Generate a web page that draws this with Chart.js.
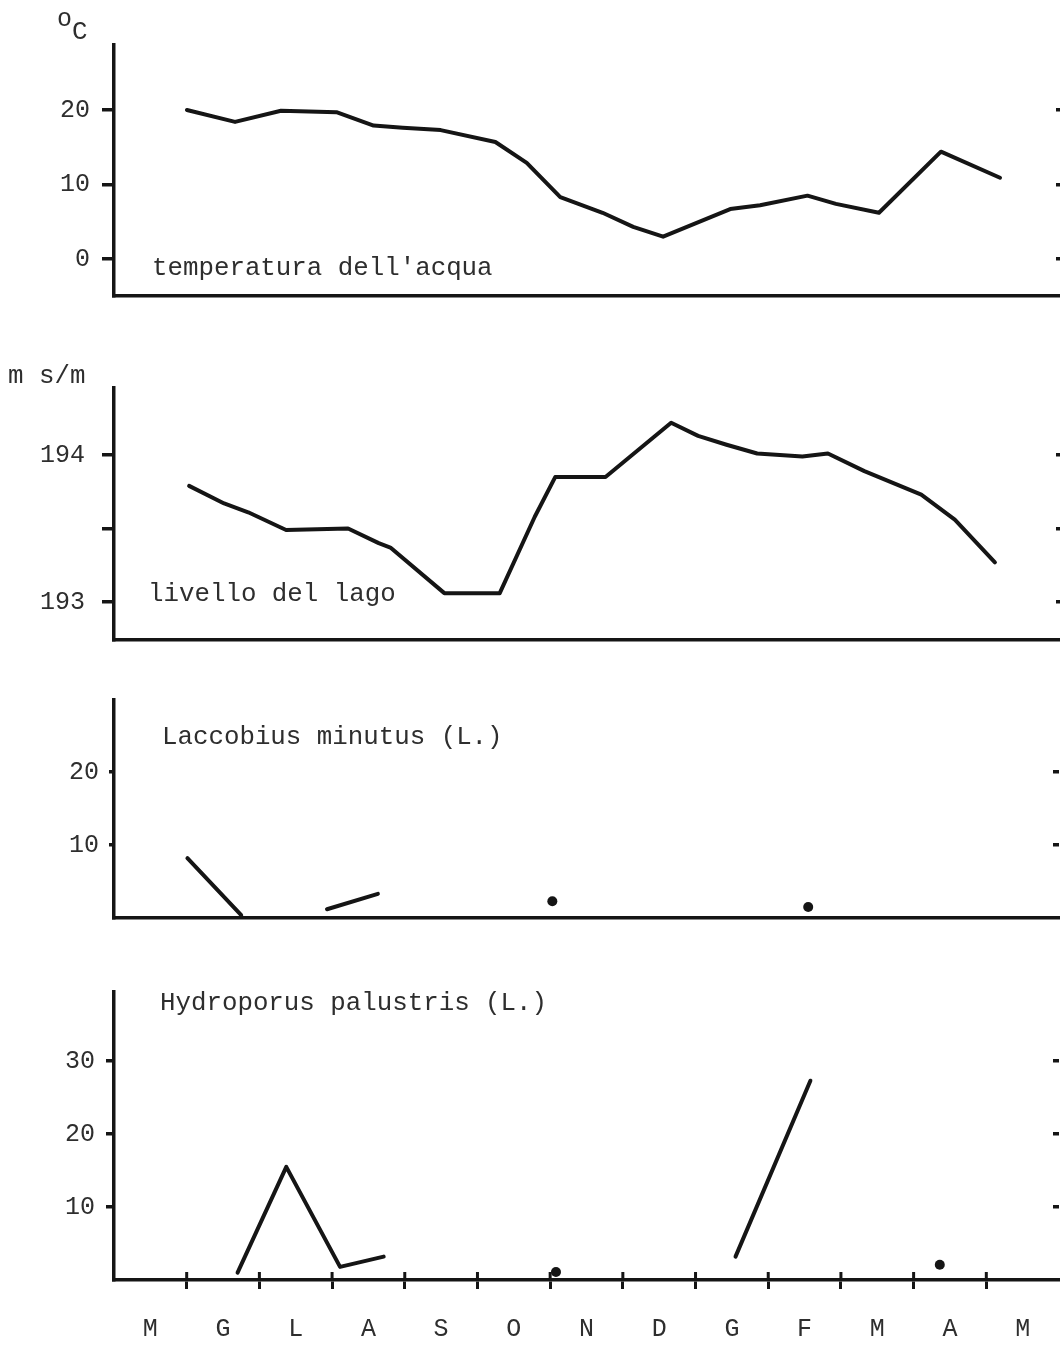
<!DOCTYPE html>
<html><head><meta charset="utf-8">
<script src="https://cdn.jsdelivr.net/npm/chart.js@4.4.1/dist/chart.umd.min.js"></script>
<style>
html,body{margin:0;padding:0;background:#fff;overflow:hidden;width:1060px;height:1347px;position:relative;}
canvas{position:absolute;left:0;}
</style></head><body>
<canvas id="c1" width="1064" height="340" style="top:0px"></canvas>
<canvas id="c2" width="1064" height="360" style="top:320px"></canvas>
<canvas id="c3" width="1064" height="300" style="top:660px"></canvas>
<canvas id="c4" width="1064" height="387" style="top:960px"></canvas>
<script>
// ---- categories (months, May -> May) ----
const months = ['M','G','L','A','S','O','N','D','G','F','M','A','M'];
const monthCentres = [0.5,1.5,2.5,3.5,4.5,5.5,6.5,7.5,8.5,9.5,10.5,11.5,12.5];
const monthBounds = [1,2,3,4,5,6,7,8,9,10,11,12];

// ---- temperatura dell'acqua (°C) ----
const tempX = [1.00,1.66,2.29,3.05,3.56,3.96,4.48,5.23,5.66,6.12,6.70,7.12,7.53,8.45,8.86,9.51,9.90,10.49,11.34,12.15];
const tempY = [20.0,18.4,19.9,19.7,17.9,17.6,17.3,15.7,12.9,8.3,6.2,4.3,3.0,6.7,7.2,8.5,7.4,6.2,14.4,10.9];
const tempTicks = [0,10,20];
const tempTickLabels = ['0','10','20'];

// ---- livello del lago (m s/m) ----
const levelX = [1.03,1.51,1.84,2.36,3.21,3.63,3.79,4.53,5.29,5.77,6.05,6.74,7.64,8.01,8.40,8.82,9.44,9.79,10.29,11.07,11.53,12.08];
const levelY = [193.79,193.67,193.61,193.49,193.50,193.40,193.37,193.06,193.06,193.58,193.85,193.85,194.22,194.13,194.07,194.01,193.99,194.01,193.89,193.73,193.56,193.27];
const levelTicks = [193,193.5,194];
const levelTickLabels = ['193','','194'];

// ---- Laccobius minutus (L.) ----
const lacc1X = [1.01,1.75];  const lacc1Y = [8.2,0.4];
const lacc2X = [2.93,3.63];  const lacc2Y = [1.2,3.3];
const laccDotX = [6.03,9.55]; const laccDotY = [2.3,1.5];
const laccTicks = [10,20];
const laccTickLabels = ['10','20'];

// ---- Hydroporus palustris (L.) ----
const hydro1X = [1.70,2.37,3.11,3.71]; const hydro1Y = [1.0,15.5,1.8,3.2];
const hydro2X = [8.55,9.58];           const hydro2Y = [3.2,27.3];
const hydroDotX = [6.08,11.36];        const hydroDotY = [1.1,2.1];
const hydroTicks = [10,20,30];
const hydroTickLabels = ['10','20','30'];

// ---------------------------------------------------------------
const FONT = "'Liberation Mono', 'DejaVu Sans Mono', monospace";
const INK = '#151515';
const TXT = '#2e2e2e';

function pts(xs, ys){ return xs.map((x,i)=>({x:x, y:ys[i]})); }
function lineDs(xs, ys){
  return {data:pts(xs,ys), yAxisID:'y', xAxisID:'x', borderColor:INK, borderWidth:4,
          pointRadius:0, fill:false, tension:0, borderJoinStyle:'round', borderCapStyle:'round', showLine:true};
}
function dotDs(xs, ys){
  return {data:pts(xs,ys), yAxisID:'y', xAxisID:'x', showLine:false, pointRadius:5,
          pointBackgroundColor:INK, pointBorderColor:INK, pointBorderWidth:0};
}

const labelPlugin = {
  id:'panelLabels',
  afterDraw(chart, args, opts){
    const ctx = chart.ctx;
    (opts.items||[]).forEach(it=>{
      ctx.save();
      ctx.font = (it.size||25.8)+'px '+FONT;
      ctx.fillStyle = TXT;
      ctx.textBaseline = 'alphabetic';
      ctx.textAlign = 'left';
      ctx.fillText(it.text, it.x, it.y);
      ctx.restore();
    });
  }
};

// tick marks of the month axis crossing the base line
const crossTicks = {
  id:'crossTicks',
  afterDraw(chart, args, opts){
    if (!opts.show) return;
    const xs = chart.scales.x, ctx = chart.ctx, base = chart.chartArea.bottom;
    ctx.save();
    ctx.strokeStyle = INK; ctx.lineWidth = 3; ctx.lineCap = 'butt';
    xs.ticks.forEach(t=>{
      const px = xs.getPixelForValue(t.value);
      ctx.beginPath(); ctx.moveTo(px, base - 8); ctx.lineTo(px, base); ctx.stroke();
    });
    ctx.restore();
  }
};

function makePanel(id, cfg){
  const scales = {
    x:{type:'linear', min:0, max:13, position:'bottom', weight:0,
       afterBuildTicks: s=>{ s.ticks = (cfg.xTicks||[]).map(v=>({value:v})); },
       ticks:{display:false},
       grid:{drawOnChartArea:false, drawTicks:!!cfg.xTicks, tickLength:9, lineWidth:3, color:INK},
       border:{display:true, width:3.5, color:INK},
       afterFit: s=>{ s.height = cfg.xHeight; }
    },
    y:{type:'linear', position:'left', min:cfg.yMin, max:cfg.yMax,
       afterBuildTicks: s=>{ s.ticks = cfg.yTicks.map(v=>({value:v})); },
       ticks:{font:{family:FONT, size:25}, color:TXT, padding:cfg.yPad,
              callback:(v)=>{ const i = cfg.yTicks.indexOf(v); return i>=0 ? cfg.yLabels[i] : ''; }},
       grid:{drawOnChartArea:false, drawTicks:true, tickLength:cfg.yTl, lineWidth:3.5, color:INK},
       border:{display:true, width:3.5, color:INK},
       afterFit: s=>{ s.width = 114; }
    },
    y2:{type:'linear', position:'right', min:cfg.yMin, max:cfg.yMax,
       afterBuildTicks: s=>{ s.ticks = cfg.yTicks.map(v=>({value:v})); },
       ticks:{display:false},
       grid:{drawOnChartArea:false, drawTicks:true, tickLength:-6, lineWidth:3.5, color:INK},
       border:{display:false},
       afterFit: s=>{ s.width = 0; }
    }
  };
  if (cfg.monthAxis){
    scales.xm = {type:'linear', min:0, max:13, position:'bottom', weight:1,
       afterBuildTicks: s=>{ s.ticks = monthCentres.map(v=>({value:v})); },
       ticks:{font:{family:FONT, size:25}, color:TXT, padding:cfg.monthPad, maxRotation:0, autoSkip:false,
              callback:(v)=>{ const i = monthCentres.indexOf(v); return i>=0 ? months[i] : ''; }},
       grid:{display:false, drawTicks:false},
       border:{display:false},
       afterFit: s=>{ s.height = cfg.monthHeight; }
    };
  }
  return new Chart(document.getElementById(id), {
    type:'line',
    data:{datasets:cfg.datasets},
    options:{
      responsive:false, animation:false, devicePixelRatio:1,
      layout:{padding:{top:cfg.padTop, bottom:cfg.padBottom, left:0, right:2}},
      plugins:{legend:{display:false}, tooltip:{enabled:false}, title:{display:false},
               panelLabels:{items:cfg.labels}, crossTicks:{show:!!cfg.monthAxis}},
      scales:scales
    },
    plugins:[labelPlugin, crossTicks]
  });
}

// Panel 1: temperatura
makePanel('c1', {
  datasets:[lineDs(tempX,tempY)],
  yMin:-4.97, yMax:28.72, yTicks:tempTicks, yLabels:tempTickLabels, yPad:12, yTl:12,
  padTop:45, padBottom:42, xHeight:2,
  labels:[{text:'o', x:57, y:26, size:25},{text:'C', x:72, y:39, size:25.8},
          {text:"temperatura dell'acqua", x:152, y:275}]
});

// Panel 2: livello del lago
makePanel('c2', {
  datasets:[lineDs(levelX,levelY)],
  yMin:192.741, yMax:194.456, yTicks:levelTicks, yLabels:levelTickLabels, yPad:17, yTl:12,
  padTop:68, padBottom:38, xHeight:2,
  labels:[{text:'m s/m', x:8, y:63},{text:'livello del lago', x:148, y:281}]
});

// Panel 3: Laccobius minutus
makePanel('c3', {
  datasets:[lineDs(lacc1X,lacc1Y), lineDs(lacc2X,lacc2Y), dotDs(laccDotX,laccDotY)],
  yMin:0, yMax:29.86, yTicks:laccTicks, yLabels:laccTickLabels, yPad:10, yTl:5,
  padTop:40, padBottom:40, xHeight:2,
  labels:[{text:'Laccobius minutus (L.)', x:162, y:84}]
});

// Panel 4: Hydroporus palustris
makePanel('c4', {
  datasets:[lineDs(hydro1X,hydro1Y), lineDs(hydro2X,hydro2Y), dotDs(hydroDotX,hydroDotY)],
  yMin:0, yMax:39.45, yTicks:hydroTicks, yLabels:hydroTickLabels, yPad:11, yTl:8,
  padTop:32, padBottom:0, xHeight:9, xTicks:monthBounds,
  monthAxis:true, monthPad:25, monthHeight:58,
  labels:[{text:'Hydroporus palustris (L.)', x:160, y:50}]
});
</script>
</body></html>
